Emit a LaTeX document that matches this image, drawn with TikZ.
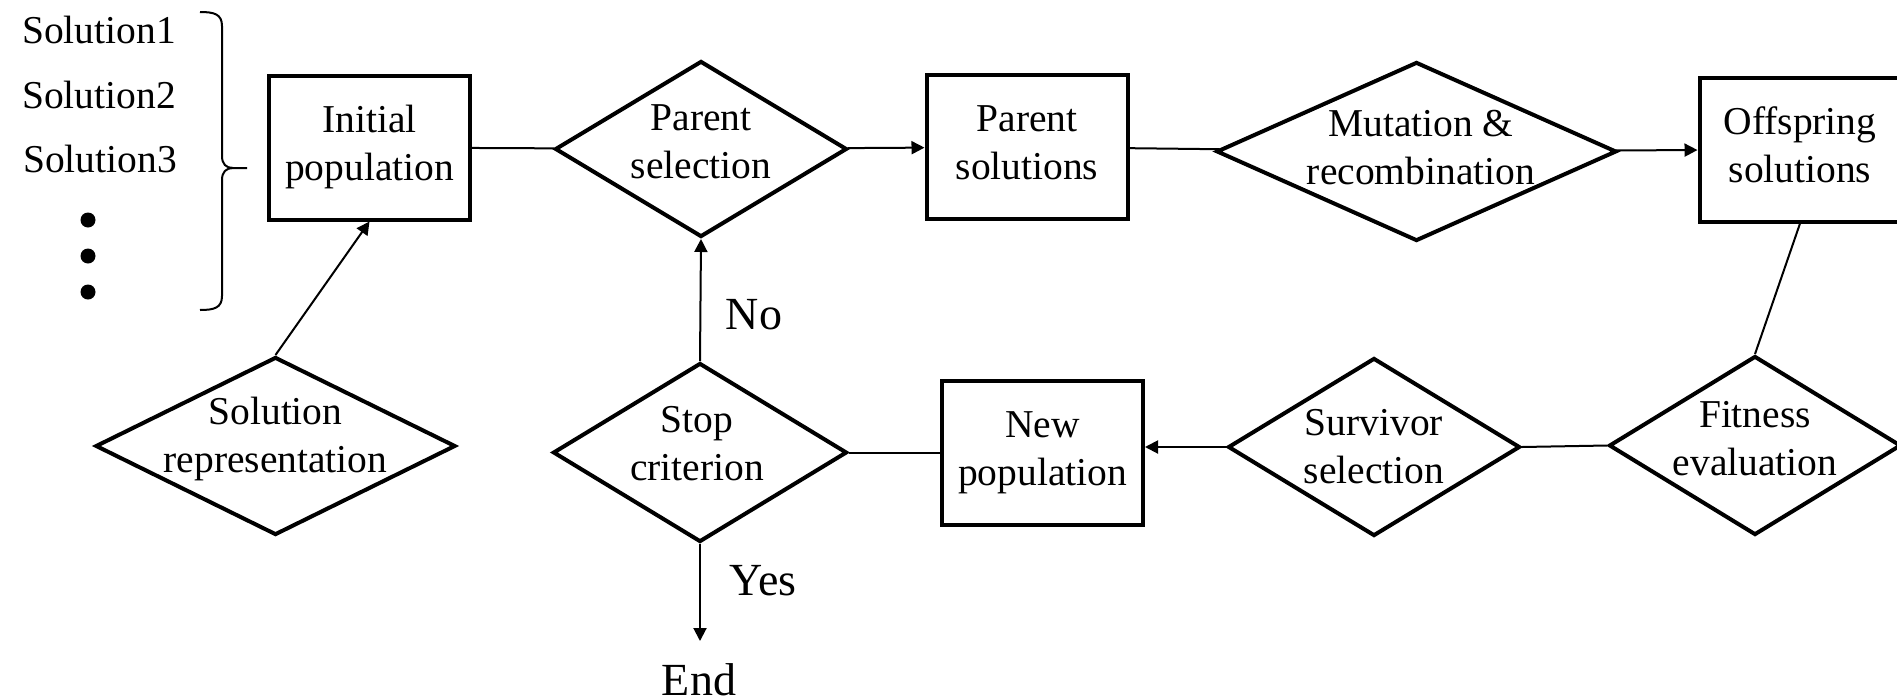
\documentclass[tikz,border=0pt]{standalone}
\usepackage{fontspec}
\setmainfont{Liberation Serif}
\usetikzlibrary{shapes.geometric,arrows.meta}
\newcommand\myNodeFont{\fontsize{39.5}{48}\selectfont}
\newcommand\myLblFont{\fontsize{46}{52}\selectfont}
\newcommand\myStrut{\rule[-15.5pt]{0pt}{48pt}}
\begin{document}
\begin{tikzpicture}[x=1pt,y=-1pt,
  box/.style={draw, line width=4pt, rectangle, inner sep=0pt, minimum width=201pt, minimum height=144pt, align=center, font=\myNodeFont},
  dia/.style={draw, line width=4pt, diamond, inner sep=0pt, line join=miter},
  txt/.style={align=center, inner sep=0pt, font=\myNodeFont},
  sol/.style={anchor=base, inner sep=0pt, font=\myNodeFont},
  lbl/.style={anchor=base, inner sep=0pt, font=\myLblFont},
  dotnode/.style={circle, fill, minimum size=15pt, inner sep=0pt},
  conn/.style={line width=2pt},
  arr/.style={line width=2pt, -{Triangle[length=13pt,width=13pt]}},
]
\useasboundingbox (0,0) rectangle (1897,699);
\clip (0,0) rectangle (1897,699);

% solution list
\node[sol] (s1) at (99,43) {Solution1};
\node[sol] (s2) at (99,108) {Solution2};
\node[sol] (s3) at (100,172) {Solution3};
\node[dotnode] (d1) at (88,220) {};
\node[dotnode] (d2) at (88,256) {};
\node[dotnode] (d3) at (88,292) {};
% brace
\draw[conn, line join=round] (200,12) .. controls (214,12) and (222,14) .. (222,26) -- (222,156) .. controls (222,164) and (226,168) .. (233,168) -- (247,168);
\draw[conn, line join=round] (233,168) .. controls (226,168) and (222,172) .. (222,180) -- (222,296) .. controls (222,308) and (214,310) .. (200,310);

% boxes
\node[box] (init) at (369.5,147.5) {\myStrut Initial\\\myStrut population};
\node[box] (psol) at (1027,147) {\myStrut Parent\\\myStrut solutions};
\node[box] (off) at (1800,149.5) {\myStrut Offspring\\\myStrut solutions};
\node[box] (newp) at (1042.5,452.5) {\myStrut New\\\myStrut population};

% diamonds
\node[dia, minimum width=360pt, minimum height=178pt] (srep) at (275.5,446) {};
\node[txt] (srep-t) at (275.5,440) {\myStrut Solution\\\myStrut representation};
\node[dia, minimum width=292pt, minimum height=176pt] (psel) at (701,149) {};
\node[txt] (psel-t) at (701,145.5) {\myStrut Parent\\\myStrut selection};
\node[dia, minimum width=400pt, minimum height=179pt] (mut) at (1416.5,151.5) {};
\node[txt] (mut-t) at (1421,152) {\myStrut Mutation \&\\\myStrut recombination};
\node[dia, minimum width=294pt, minimum height=179pt] (stop) at (700,452.5) {};
\node[txt] (stop-t) at (697,447.5) {\myStrut Stop\\\myStrut criterion};
\node[dia, minimum width=292pt, minimum height=178pt] (surv) at (1374,447) {};
\node[txt] (surv-t) at (1374,451) {\myStrut Survivor\\\myStrut selection};
\node[dia, minimum width=292pt, minimum height=179pt] (fit) at (1755,445.5) {};
\node[txt] (fit-t) at (1755,443) {\myStrut Fitness\\\myStrut evaluation};

% labels
\node[lbl] (no) at (754,329) {No};
\node[lbl] (yes) at (763,595) {Yes};
\node[lbl] (end) at (699,695) {End};
\coordinate (endpt) at (700,641);

% connectors
\draw[arr] (srep.north) -- (init.south);
\draw[conn] (init) -- (psel);
\draw[arr] (psel) -- (psol);
\draw[conn] (psol) -- (mut);
\draw[arr] (mut) -- (off);
\draw[conn] (off.south) -- (fit.north);
\draw[conn] (fit.west) -- (surv.east);
\draw[arr] (surv.west) -- (surv.west -| newp.east);
\draw[conn] (newp.west) -- (stop.east);
\draw[arr] (stop.north) -- (psel.south);
\draw[arr] (stop.south) -- (endpt);
\end{tikzpicture}
\end{document}
